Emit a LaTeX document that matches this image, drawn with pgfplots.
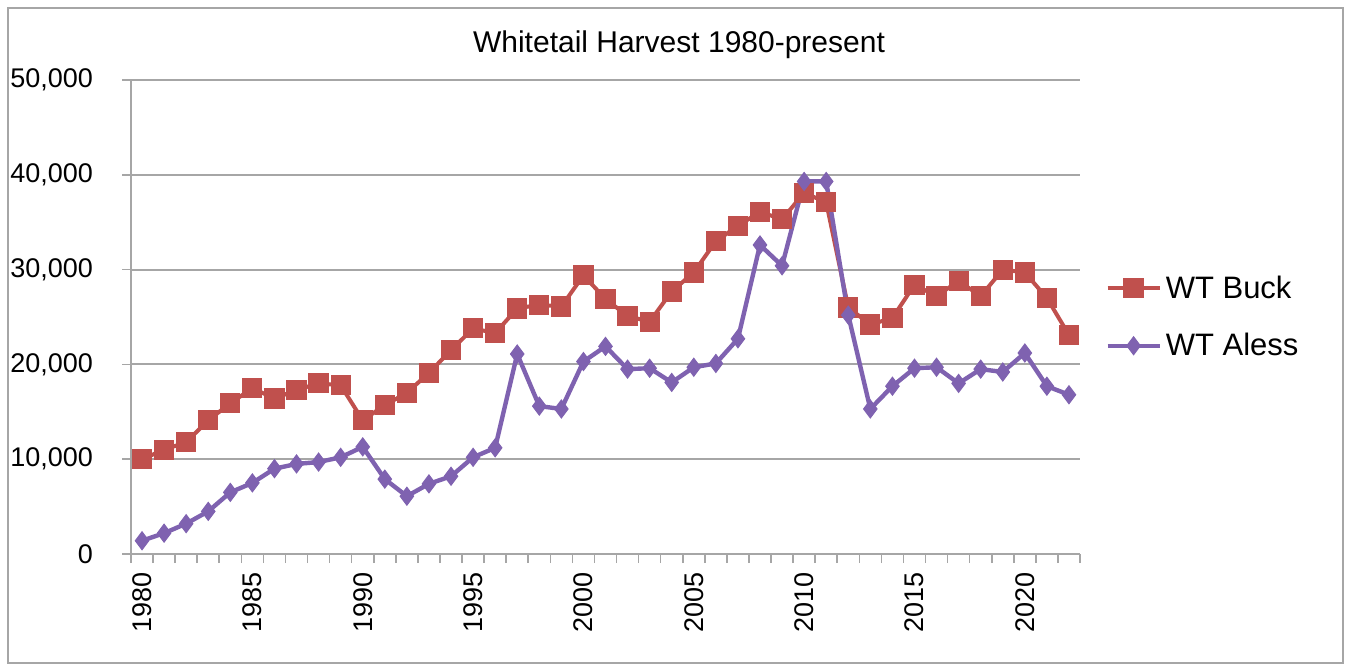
\documentclass[border=0pt]{standalone}
\usepackage{pgfplots}
\pgfplotsset{compat=1.18}
\usepackage{fontspec}
\setmainfont{Liberation Sans}
\definecolor{buck}{HTML}{C0504D}
\definecolor{aless}{HTML}{7F62B0}
\definecolor{gridg}{HTML}{A6A6A6}

\begin{document}
\begin{tikzpicture}
% 1 px of the reference = 0.5pt; axis origin at px (131,554)
\useasboundingbox (-65.5pt,-58.5pt) rectangle (610pt,277pt);
\draw[gray!70, line width=1pt] (-61.5pt,-54.5pt) rectangle (606pt,273pt);
\node[font=\fontsize{15}{16}\selectfont, inner sep=0pt] at (274pt,254.5pt) {Whitetail Harvest 1980-present};

\begin{axis}[
    scale only axis,
    width=474.5pt, height=237pt,
    xmin=1979.5, xmax=2022.5,
    ymin=0, ymax=50000,
    axis x line*=bottom, axis y line*=left,
    axis line style={gridg, line width=1pt, -},
    xtick={1980,1985,...,2020},
    minor xtick={1979.5,1980.5,...,2022.5},
    major x tick style={draw=none},
    minor x tick style={draw=gridg, line width=0.8pt},
    major tick length=4.5pt,
    minor tick length=4.5pt,
    ytick={0,10000,...,50000},
    major y tick style={draw=gridg, line width=0.8pt},
    ymajorgrids=true,
    grid style={gridg, line width=1pt},
    tick align=outside,
    yticklabel style={font=\fontsize{13.5}{14}\selectfont, xshift=-11pt},
    xticklabel style={font=\fontsize{13.5}{14}\selectfont, rotate=90, anchor=east, xshift=-1pt},
    /pgf/number format/.cd, 1000 sep={,}, assume math mode=true,
    /pgfplots/.cd,
    scaled y ticks=false,
    xticklabel={\pgfmathprintnumber[precision=0,1000 sep={}]{\tick}},
    legend style={draw=none, at={(1.02,0.5)}, anchor=west,
        font=\fontsize{15.5}{16}\selectfont, row sep=12pt,
        /tikz/every even column/.append style={column sep=1pt}},
    legend image code/.code={
        \draw[#1, mark=none] (0pt,0pt) -- (26pt,0pt);
        \draw[#1, line width=0.5pt] plot coordinates {(13pt,0pt)};
    },
    legend cell align=left,
    clip=false,
]
\addplot[buck, line width=2pt, mark=square*, mark size=4.8pt,
    mark options={solid, fill=buck, draw=buck, line width=0.5pt}] coordinates {
(1980,10000) (1981,11000) (1982,11800) (1983,14100) (1984,15900)
(1985,17500) (1986,16400) (1987,17300) (1988,18000) (1989,17800)
(1990,14100) (1991,15700) (1992,17000) (1993,19100) (1994,21500)
(1995,23800) (1996,23300) (1997,25900) (1998,26300) (1999,26100)
(2000,29400) (2001,26900) (2002,25100) (2003,24500) (2004,27700)
(2005,29700) (2006,33000) (2007,34600) (2008,36100) (2009,35300)
(2010,38100) (2011,37100) (2012,26000) (2013,24200) (2014,24900)
(2015,28400) (2016,27200) (2017,28800) (2018,27200) (2019,30000)
(2020,29700) (2021,27000) (2022,23100)
};
\addlegendentry{WT Buck}
\addplot[aless, line width=2.2pt, mark=diamond*, mark size=4.5pt,
    mark options={solid, fill=aless, draw=aless, line width=0.5pt}] coordinates {
(1980,1400) (1981,2200) (1982,3200) (1983,4500) (1984,6500)
(1985,7500) (1986,9000) (1987,9500) (1988,9700) (1989,10200)
(1990,11300) (1991,7900) (1992,6100) (1993,7400) (1994,8200)
(1995,10200) (1996,11200) (1997,21100) (1998,15600) (1999,15300)
(2000,20300) (2001,21900) (2002,19500) (2003,19600) (2004,18100)
(2005,19700) (2006,20100) (2007,22700) (2008,32600) (2009,30400)
(2010,39300) (2011,39300) (2012,25200) (2013,15300) (2014,17700)
(2015,19600) (2016,19700) (2017,18000) (2018,19500) (2019,19200)
(2020,21200) (2021,17700) (2022,16800)
};
\addlegendentry{WT Aless}
\end{axis}
\end{tikzpicture}
\end{document}
